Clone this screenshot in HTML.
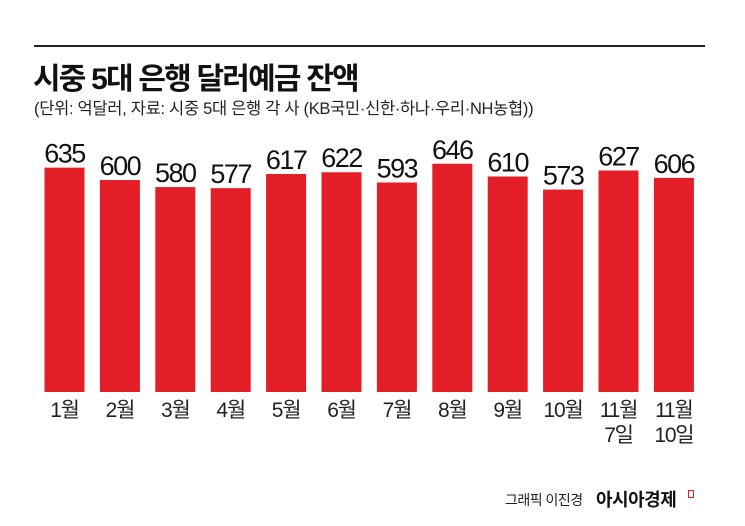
<!DOCTYPE html>
<html><head><meta charset="utf-8"><style>
html,body{margin:0;padding:0;background:#fff;}
body{width:745px;height:526px;position:relative;overflow:hidden;font-family:"Liberation Sans","Noto Sans CJK KR",sans-serif;}
.abs{position:absolute;white-space:nowrap;}
</style></head><body>
<div class="abs" style="left:34px;top:45px;width:671px;height:2px;background:#222;"></div>
<div class="abs" style="left:33px;top:54px;font-size:30px;font-weight:bold;letter-spacing:-1.8px;color:#111;">시중 5대 은행 달러예금 잔액</div>
<div class="abs" style="left:34px;top:95px;font-size:16.5px;letter-spacing:-0.3px;color:#222;">(단위: 억달러, 자료: 시중 5대 은행 각 사 (KB국민·신한·하나·우리·NH농협))</div>
<svg id="chart" class="abs" style="left:0;top:0" width="745" height="470"></svg>
<div class="abs" style="left:505px;top:490px;font-size:14px;color:#222;letter-spacing:-0.5px;">그래픽 이진경</div>
<div class="abs" style="left:596px;top:486px;font-size:18px;font-weight:bold;color:#111;letter-spacing:-0.5px;">아시아경제</div>
<div class="abs" style="left:688px;top:490px;width:4px;height:6px;border:1.5px solid #e31e24;"></div>
<script>
const categories=["1월","2월","3월","4월","5월","6월","7월","8월","9월","10월","11월\n7일","11월\n10일"];
const values=[635,600,580,577,617,622,593,646,610,573,627,606];
const svg=document.getElementById('chart');
const NS="http://www.w3.org/2000/svg";
const baseY=392, k=0.3533, x0=44.5, pitch=55.4, bw=40;
function xPos(i){return x0+i*pitch;}
function yPos(v){return baseY-v*k;}
values.forEach((v,i)=>{
  const r=document.createElementNS(NS,'rect');
  r.setAttribute('x',xPos(i));r.setAttribute('y',yPos(v));
  r.setAttribute('width',bw);r.setAttribute('height',baseY-yPos(v));
  r.setAttribute('fill','#e41e26');
  
  
  svg.appendChild(r);
  const t=document.createElementNS(NS,'text');
  t.setAttribute('x',xPos(i)+bw/2);t.setAttribute('y',yPos(v)-5);
  t.setAttribute('text-anchor','middle');t.setAttribute('font-size','27');
  t.setAttribute('fill','#111');t.setAttribute('letter-spacing','-1.5');
  t.setAttribute('font-family','"Liberation Sans Narrow","Liberation Sans",sans-serif');
  t.textContent=v;
  
  
  svg.appendChild(t);
  categories[i].split('\n').forEach((line,j)=>{
    const c=document.createElementNS(NS,'text');
    c.setAttribute('x',xPos(i)+bw/2);c.setAttribute('y',417+j*25);
    c.setAttribute('text-anchor','middle');c.setAttribute('font-size','21');
    c.setAttribute('fill','#222');c.setAttribute('letter-spacing','-1.2');
    c.setAttribute('font-family','"Liberation Sans","Noto Sans CJK KR",sans-serif');
    c.textContent=line;
    
    
    svg.appendChild(c);
  });
});
</script>
</body></html>
